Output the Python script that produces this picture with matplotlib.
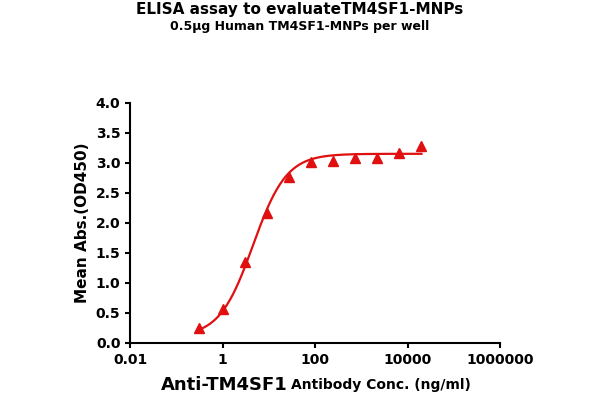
import numpy as np
import matplotlib
matplotlib.use("Agg")
import matplotlib.pyplot as plt

conc = [0.3, 1, 3, 9, 27, 81, 243, 729, 2187, 6561, 19683]
od = [0.25, 0.57, 1.35, 2.17, 2.77, 3.02, 3.03, 3.08, 3.08, 3.17, 3.28]
fit_bottom, fit_top, fit_ec50, fit_hill = 0.1, 3.15, 4.5, 1.2

fig = plt.figure(figsize=(6, 4), dpi=100)
ax = fig.add_axes([0.217, 0.143, 0.617, 0.6])
xs = np.logspace(np.log10(conc[0]), np.log10(conc[-1]), 300)
ys = fit_bottom + (fit_top - fit_bottom) / (1 + (fit_ec50 / xs) ** fit_hill)
ax.plot(xs, ys, color="#e01010", lw=1.6)
ax.plot(conc, od, "^", color="#e01010", ms=7)
ax.set_xscale("log")
ax.set_xlim(0.01, 1e6)
ax.set_ylim(0, 4)
ax.set_xticks([0.01, 1, 100, 10000, 1000000])
ax.set_xticklabels(["0.01", "1", "100", "10000", "1000000"])
ax.set_yticks(np.arange(0, 4.01, 0.5))
ax.set_yticklabels([f"{v:.1f}" for v in np.arange(0, 4.01, 0.5)])
ax.minorticks_off()
for s in ["top", "right"]:
    ax.spines[s].set_visible(False)
for s in ["left", "bottom"]:
    ax.spines[s].set_linewidth(1.5)
ax.tick_params(width=1.5, labelsize=10)
for t in ax.get_xticklabels() + ax.get_yticklabels():
    t.set_fontweight("bold")
ax.set_ylabel("Mean Abs.(OD450)", fontsize=11, fontweight="bold")
fig.text(0.48, 0.026, "Anti-TM4SF1", ha="right", fontsize=13, fontweight="bold")
fig.text(0.485, 0.028, "Antibody Conc. (ng/ml)", ha="left", fontsize=10, fontweight="bold")
fig.text(0.5, 0.965, "ELISA assay to evaluateTM4SF1-MNPs", ha="center", fontsize=11, fontweight="bold")
fig.text(0.5, 0.925, "0.5µg Human TM4SF1-MNPs per well", ha="center", fontsize=9, fontweight="bold")
fig.savefig("out.png")
